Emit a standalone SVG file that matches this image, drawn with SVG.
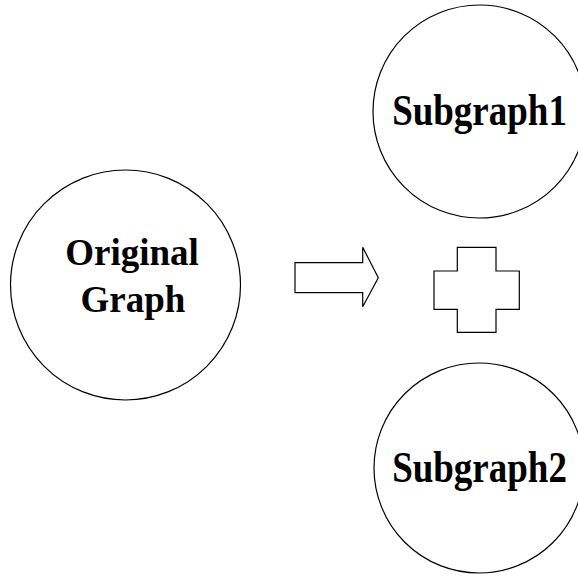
<svg xmlns="http://www.w3.org/2000/svg" width="578" height="576" viewBox="0 0 578 576">
  <style>
    .shape { fill: #ffffff; stroke: #000000; stroke-width: 1.2; }
    .label { font-family: "Liberation Serif", "Times New Roman", serif; font-weight: bold; font-size: 37px; fill: #000000; text-anchor: middle; }
  </style>
  <rect width="578" height="576" fill="#ffffff"/>
  <g id="original-graph">
    <circle class="shape" cx="125.5" cy="285" r="115"/>
    <text class="label" transform="translate(132,265) scale(1,1.05)">Original</text>
    <text class="label" transform="translate(133,312) scale(1,1.05)">Graph</text>
  </g>
  <g id="subgraph1">
    <circle class="shape" cx="479.5" cy="111.5" r="106.5"/>
    <text class="label" transform="translate(479.5,125) scale(1,1.17)">Subgraph1</text>
  </g>
  <g id="subgraph2">
    <circle class="shape" cx="479" cy="468" r="105"/>
    <text class="label" transform="translate(479.5,482) scale(1,1.17)">Subgraph2</text>
  </g>
  <g id="connectors">
    <!-- block arrow pointing from the original graph to its parts -->
    <path id="split-arrow" class="shape" d="M295 262.7 H362.7 V247.3 L378.3 277.7 L362.7 306.7 V292.7 H295 Z"/>
    <!-- plus sign joining the two subgraphs -->
    <path id="plus" class="shape" d="M457.3 247.3 H496 V271 H519.3 V309.3 H496 V332.3 H457.3 V309.3 H434 V271 H457.3 Z"/>
  </g>
</svg>
